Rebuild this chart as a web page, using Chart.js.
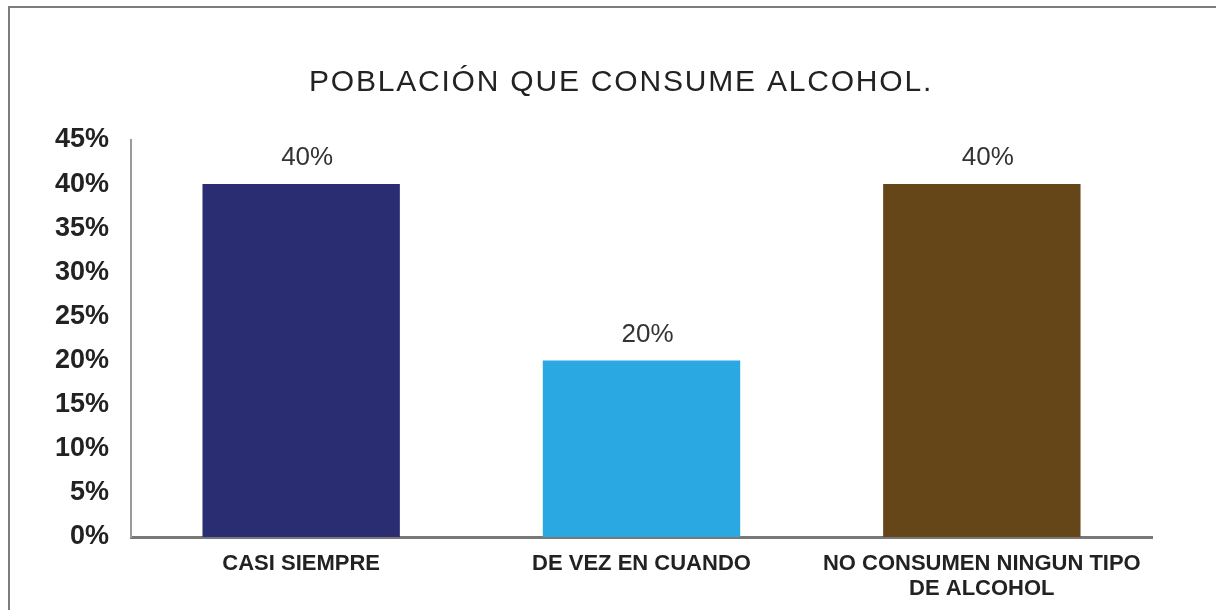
<!DOCTYPE html>
<html>
<head>
<meta charset="utf-8">
<script src="https://cdn.jsdelivr.net/npm/chart.js@4/dist/chart.umd.min.js"></script>
<style>
  html, body { margin: 0; padding: 0; background: #fff; }
  #wrap { position: relative; width: 1216px; height: 610px; overflow: hidden; }
  #frame { position: absolute; left: 8px; top: 6px; right: 0; bottom: 0;
           border-top: 2px solid #7d7d7d; border-left: 2px solid #7d7d7d; pointer-events: none; }
  canvas { position: absolute; left: 0; top: 0; }
</style>
</head>
<body>
<div id="wrap">
  <canvas id="chart" width="1216" height="610"></canvas>
  <div id="frame"></div>
</div>
<script>
var chartTitle = "POBLACIÓN QUE CONSUME ALCOHOL.";
var categories = [
    "CASI SIEMPRE",
    "DE VEZ EN CUANDO",
    ["NO CONSUMEN NINGUN TIPO", "DE ALCOHOL"]
];
var values = [40, 20, 40];
var barColors = ["#2b2d72", "#29a8e1", "#654619"];
var yMax = 45;
var yStep = 5;

// title drawn by hand so it can get the wide letter spacing of the original
var wideTitle = {
    id: 'wideTitle',
    afterDraw: function(chart){
        var ctx = chart.ctx;
        ctx.save();
        ctx.font = '30px "Liberation Sans", Arial, sans-serif';
        ctx.letterSpacing = '1.8px';
        ctx.fillStyle = '#222';
        ctx.textAlign = 'center';
        ctx.textBaseline = 'middle';
        ctx.fillText(chartTitle, 621, 83);
        ctx.restore();
    }
};

// draws the "40%" labels above each bar
var valueLabels = {
    id: 'valueLabels',
    afterDatasetsDraw: function(chart){
        var ctx = chart.ctx;
        var meta = chart.getDatasetMeta(0);
        ctx.save();
        ctx.font = '26px "Liberation Sans", Arial, sans-serif';
        ctx.fillStyle = '#333';
        ctx.textAlign = 'center';
        ctx.textBaseline = 'middle';
        meta.data.forEach(function(bar, i){
            ctx.fillText(values[i] + '%', bar.x + 6, bar.y - 26);
        });
        ctx.restore();
    }
};

document.addEventListener("DOMContentLoaded", function(){
    new Chart(document.getElementById('chart'), {
        type: 'bar',
        data: {
            labels: categories,
            datasets: [{
                data: values,
                backgroundColor: barColors,
                borderWidth: 0,
                barPercentage: 0.58,
                categoryPercentage: 1
            }]
        },
        options: {
            responsive: false,
            animation: false,
            devicePixelRatio: 1,
            layout: { padding: { top: 140, right: 64, left: 0, bottom: 0 } },
            plugins: {
                legend: { display: false },
                tooltip: { enabled: false },
                title: { display: false }
            },
            scales: {
                x: {
                    grid: { display: false, drawTicks: false },
                    border: { display: true, color: '#787878', width: 3 },
                    ticks: {
                        color: '#222',
                        padding: 14,
                        maxRotation: 0,
                        autoSkip: false,
                        font: { family: '"Liberation Sans", Arial, sans-serif', size: 22, weight: 'bold', lineHeight: 1.15 }
                    },
                    afterFit: function(scale){ scale.height = 73; }
                },
                y: {
                    min: 0,
                    max: yMax,
                    grid: { display: false, drawTicks: false },
                    border: { display: true, color: '#9a9a9a', width: 2 },
                    ticks: {
                        stepSize: yStep,
                        color: '#222',
                        padding: 22,
                        font: { family: '"Liberation Sans", Arial, sans-serif', size: 27, weight: 'bold' },
                        callback: function(value){ return value + '%'; }
                    },
                    afterFit: function(scale){ scale.width = 131; }
                }
            }
        },
        plugins: [valueLabels, wideTitle]
    });
});
</script>
</body>
</html>
